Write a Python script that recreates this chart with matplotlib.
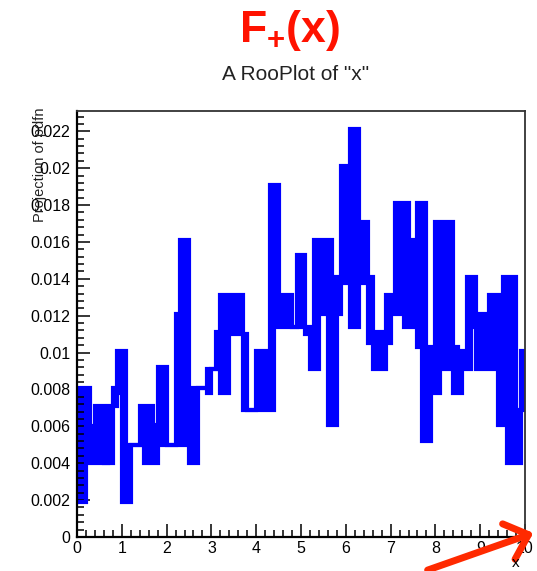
import numpy as np
import matplotlib
matplotlib.use("Agg")
import matplotlib.pyplot as plt
from matplotlib.ticker import MultipleLocator, FuncFormatter
from matplotlib.patches import FancyArrowPatch

plt.rcParams['font.family'] = ['Liberation Sans', 'DejaVu Sans']
plt.rcParams['mathtext.fontset'] = 'custom'
plt.rcParams['mathtext.rm'] = 'Liberation Sans'
plt.rcParams['mathtext.bf'] = 'Liberation Sans:bold'

# histogram bins of width 0.1 on [0, 10]; the fine-binned curve wiggles
# between a low and a high level inside each bin
bin_edges = np.linspace(0, 10, 101)

curve_lo = [
    0.0019, 0.0019, 0.0060, 0.0040, 0.0040, 0.0040, 0.0040, 0.0040, 0.0071, 0.0078,
    0.0019, 0.0019, 0.0050, 0.0050, 0.0050, 0.0040, 0.0040, 0.0040, 0.0050, 0.0050,
    0.0050, 0.0050, 0.0050, 0.0050, 0.0050, 0.0040, 0.0040, 0.0081, 0.0081, 0.0078,
    0.0091, 0.0091, 0.0078, 0.0078, 0.0110, 0.0110, 0.0110, 0.0069, 0.0069, 0.0069,
    0.0069, 0.0069, 0.0069, 0.0069, 0.0114, 0.0114, 0.0114, 0.0114, 0.0114, 0.0114,
    0.0114, 0.0110, 0.0091, 0.0091, 0.0121, 0.0121, 0.0061, 0.0061, 0.0121, 0.0138,
    0.0138, 0.0114, 0.0114, 0.0138, 0.0138, 0.0105, 0.0091, 0.0091, 0.0091, 0.0105,
    0.0121, 0.0121, 0.0121, 0.0114, 0.0114, 0.0114, 0.0103, 0.0052, 0.0052, 0.0078,
    0.0078, 0.0091, 0.0091, 0.0091, 0.0078, 0.0078, 0.0091, 0.0091, 0.0114, 0.0091,
    0.0091, 0.0091, 0.0091, 0.0114, 0.0061, 0.0061, 0.0040, 0.0040, 0.0040, 0.0069,
]
curve_hi = [
    0.0081, 0.0081, 0.0081, 0.0060, 0.0071, 0.0071, 0.0040, 0.0071, 0.0081, 0.0101,
    0.0101, 0.0050, 0.0050, 0.0050, 0.0071, 0.0071, 0.0071, 0.0061, 0.0092, 0.0092,
    0.0050, 0.0050, 0.0121, 0.0161, 0.0161, 0.0050, 0.0081, 0.0081, 0.0081, 0.0091,
    0.0091, 0.0111, 0.0131, 0.0131, 0.0131, 0.0131, 0.0131, 0.0110, 0.0069, 0.0069,
    0.0101, 0.0101, 0.0101, 0.0191, 0.0191, 0.0131, 0.0131, 0.0131, 0.0114, 0.0153,
    0.0153, 0.0114, 0.0111, 0.0161, 0.0161, 0.0161, 0.0161, 0.0141, 0.0141, 0.0201,
    0.0201, 0.0221, 0.0221, 0.0171, 0.0171, 0.0141, 0.0111, 0.0111, 0.0111, 0.0131,
    0.0131, 0.0181, 0.0181, 0.0181, 0.0126, 0.0161, 0.0181, 0.0181, 0.0103, 0.0103,
    0.0171, 0.0171, 0.0171, 0.0171, 0.0103, 0.0101, 0.0101, 0.0141, 0.0141, 0.0121,
    0.0121, 0.0114, 0.0131, 0.0131, 0.0131, 0.0141, 0.0141, 0.0141, 0.0069, 0.0101,
]

blue = '#0000ff'

fig = plt.figure(figsize=(5.37, 5.71), dpi=100)
ax = fig.add_axes([77 / 537, 1 - 537 / 571, 448 / 537, 426 / 571])

lo = np.append(curve_lo, curve_lo[-1])
hi = np.append(curve_hi, curve_hi[-1])
ax.fill_between(bin_edges, lo, hi, step='post', color=blue, lw=0)
ax.step(bin_edges, lo, where='post', color=blue, lw=3.0,
        solid_joinstyle='miter', solid_capstyle='butt')
ax.step(bin_edges, hi, where='post', color=blue, lw=3.0,
        solid_joinstyle='miter', solid_capstyle='butt')

ax.set_xlim(0, 10)
ax.set_ylim(0, 0.0231)

ax.xaxis.set_major_locator(MultipleLocator(1))
ax.xaxis.set_minor_locator(MultipleLocator(0.2))
ax.yaxis.set_major_locator(MultipleLocator(0.002))
ax.yaxis.set_minor_locator(MultipleLocator(0.0004))
ax.yaxis.set_major_formatter(FuncFormatter(lambda v, p: '%g' % round(v, 4)))
ax.xaxis.set_major_formatter(FuncFormatter(lambda v, p: '%g' % v))

ax.tick_params(which='both', direction='in', top=False, right=False,
               width=1.1, labelsize=11.5, colors='black')
ax.tick_params(which='major', length=9.5)
ax.tick_params(which='minor', length=5)
ax.tick_params(axis='y', pad=5)
ax.tick_params(axis='x', pad=3)
for s in ['left', 'bottom']:
    ax.spines[s].set_linewidth(1.6)
for s in ['top', 'right']:
    ax.spines[s].set_linewidth(1.3)
    ax.spines[s].set_color('#333333')

# titles and axis labels
fig.text(290 / 537, 1 - 42 / 571, r'$\mathbf{F_{+}(x)}$', color='#ff1200',
         fontsize=32, ha='center', va='baseline')
fig.text(296 / 537, 1 - 75 / 571, 'A RooPlot of "x"', fontsize=15,
         ha='center', va='center', color='#222222')
fig.text(40 / 537, 1 - 107 / 571, 'Projection of pdfn', rotation=90,
         fontsize=10.5, ha='center', va='top', color='#222222')
fig.text(516 / 537, 1 - 563 / 571, 'x', fontsize=11, ha='center',
         va='center')

# red arrow pointing at the end of the x axis
arrow = FancyArrowPatch((425 / 537, 0.0), (536 / 537, 1 - 532 / 571),
                        transform=fig.transFigure, arrowstyle='->,head_length=0.5,head_width=0.45',
                        mutation_scale=30, lw=5, color='#ff2a00')
fig.add_artist(arrow)

fig.savefig('out.png', dpi=100)
